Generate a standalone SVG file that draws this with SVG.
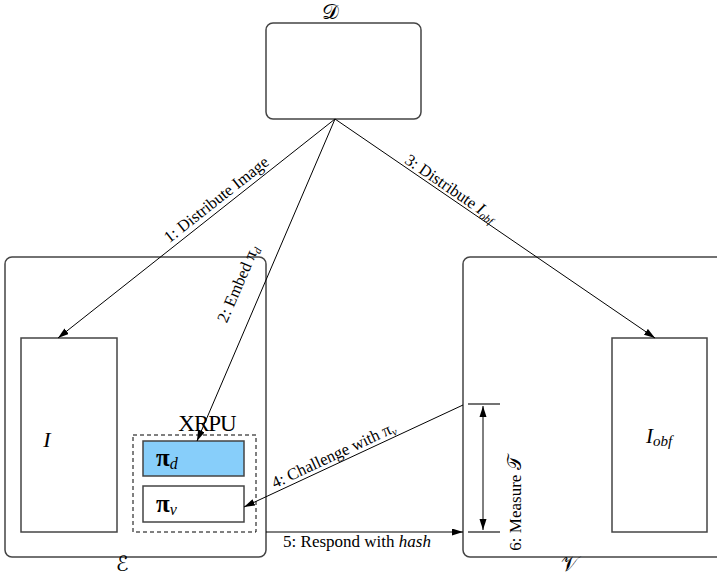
<svg xmlns="http://www.w3.org/2000/svg" width="717" height="579" viewBox="0 0 717 579">
<style>
.box{fill:none;stroke:#444;stroke-width:1.5}
.ln{fill:none;stroke:#000;stroke-width:1}
.t{font-family:"Liberation Serif","DejaVu Serif",serif;fill:#000}
.scr{font-family:"DejaVu Serif","DejaVu Sans","Noto Sans",serif;fill:#000}
</style>
<defs>
<marker id="ah" markerUnits="userSpaceOnUse" markerWidth="12" markerHeight="8" refX="11" refY="3.5" orient="auto">
<path d="M0,0 L11,3.5 L0,7 z" fill="#000"/>
</marker>
<marker id="ahs" markerUnits="userSpaceOnUse" markerWidth="12" markerHeight="8" refX="0" refY="3.5" orient="auto">
<path d="M11,0 L0,3.5 L11,7 z" fill="#000"/>
</marker>
</defs>

<g id="D">
<rect class="box" x="266" y="23" width="155" height="96" rx="7"/>
<text class="scr" x="330" y="19" font-size="21" text-anchor="middle">𝒟</text>
</g>

<g id="E">
<rect class="box" x="5" y="257" width="261" height="300" rx="7"/>
<text class="scr" x="122" y="571" font-size="21" text-anchor="middle">ℰ</text>
</g>

<g id="V">
<rect class="box" x="463" y="257" width="270" height="300" rx="7"/>
<text class="scr" x="570" y="571" font-size="21" text-anchor="middle">𝒱</text>
</g>

<g id="I">
<rect class="box" x="21" y="338" width="96" height="194"/>
<text class="t" x="47" y="447" font-size="22" font-style="italic" text-anchor="middle">I</text>
</g>

<g id="Iobf">
<rect class="box" x="612" y="338" width="95" height="194"/>
<text class="t" x="646" y="443" font-size="21" font-style="italic">I<tspan font-size="15" dy="3">obf</tspan></text>
</g>

<g id="XRPU">
<rect x="133" y="435" width="123" height="97" fill="none" stroke="#000" stroke-width="1" stroke-dasharray="4,3"/>
<text class="t" x="207" y="431" font-size="23" text-anchor="middle" letter-spacing="-1">XRPU</text>
</g>

<g id="pid">
<rect x="143" y="441" width="101" height="35" fill="#87CEFA" stroke="#444" stroke-width="1.5"/>
<text class="t" x="156" y="466" font-size="25" font-weight="bold">π<tspan font-size="16" font-style="italic" font-weight="normal" dy="3">d</tspan></text>
</g>

<g id="piv">
<rect x="143" y="486" width="101" height="36" fill="#fff" stroke="#444" stroke-width="1.5"/>
<text class="t" x="156" y="512" font-size="25" font-weight="bold">π<tspan font-size="16" font-style="italic" font-weight="normal" dy="3">v</tspan></text>
</g>

<g id="connectors">
<line class="ln" x1="335" y1="119" x2="58" y2="338" marker-end="url(#ah)"/>
<line class="ln" x1="335" y1="119" x2="197" y2="441" marker-end="url(#ah)"/>
<line class="ln" x1="335" y1="119" x2="655" y2="338" marker-end="url(#ah)"/>
<line class="ln" x1="463" y1="405" x2="244" y2="507" marker-end="url(#ah)"/>
<line class="ln" x1="266" y1="532" x2="463" y2="532" marker-end="url(#ah)"/>
<line x1="468" y1="404" x2="500" y2="404" stroke="#444" stroke-width="1.5"/>
<line x1="468" y1="532" x2="500" y2="532" stroke="#444" stroke-width="1.5"/>
<line class="ln" x1="483" y1="406" x2="483" y2="530" marker-start="url(#ahs)" marker-end="url(#ah)"/>

<text class="t" font-size="16.5" text-anchor="middle" transform="translate(222.7,207.7) rotate(-38.3)" y="-5">1: Distribute Image</text>
<text class="t" font-size="16.5" text-anchor="middle" transform="translate(243,286) rotate(-66.8)" y="0">2: Embed <tspan font-size="17">π</tspan><tspan font-size="11" font-style="italic" dy="3">d</tspan></text>
<text class="t" font-size="16.5" text-anchor="middle" transform="translate(446,195) rotate(34.4)" y="-3">3: Distribute <tspan font-style="italic">I<tspan font-size="11" dy="3">obf</tspan></tspan></text>
<text class="t" font-size="16.5" text-anchor="middle" transform="translate(337.5,463.5) rotate(-25)" y="-4">4: Challenge with <tspan font-size="17">π</tspan><tspan font-size="11" font-style="italic" dy="3">v</tspan></text>
<text class="t" font-size="17" text-anchor="middle" x="357" y="547">5: Respond with <tspan font-style="italic">hash</tspan></text>
<text class="t" font-size="17" text-anchor="middle" transform="translate(521,503) rotate(-90)">6: Measure <tspan class="scr" font-size="19">𝒯</tspan></text>
</g>
</svg>
